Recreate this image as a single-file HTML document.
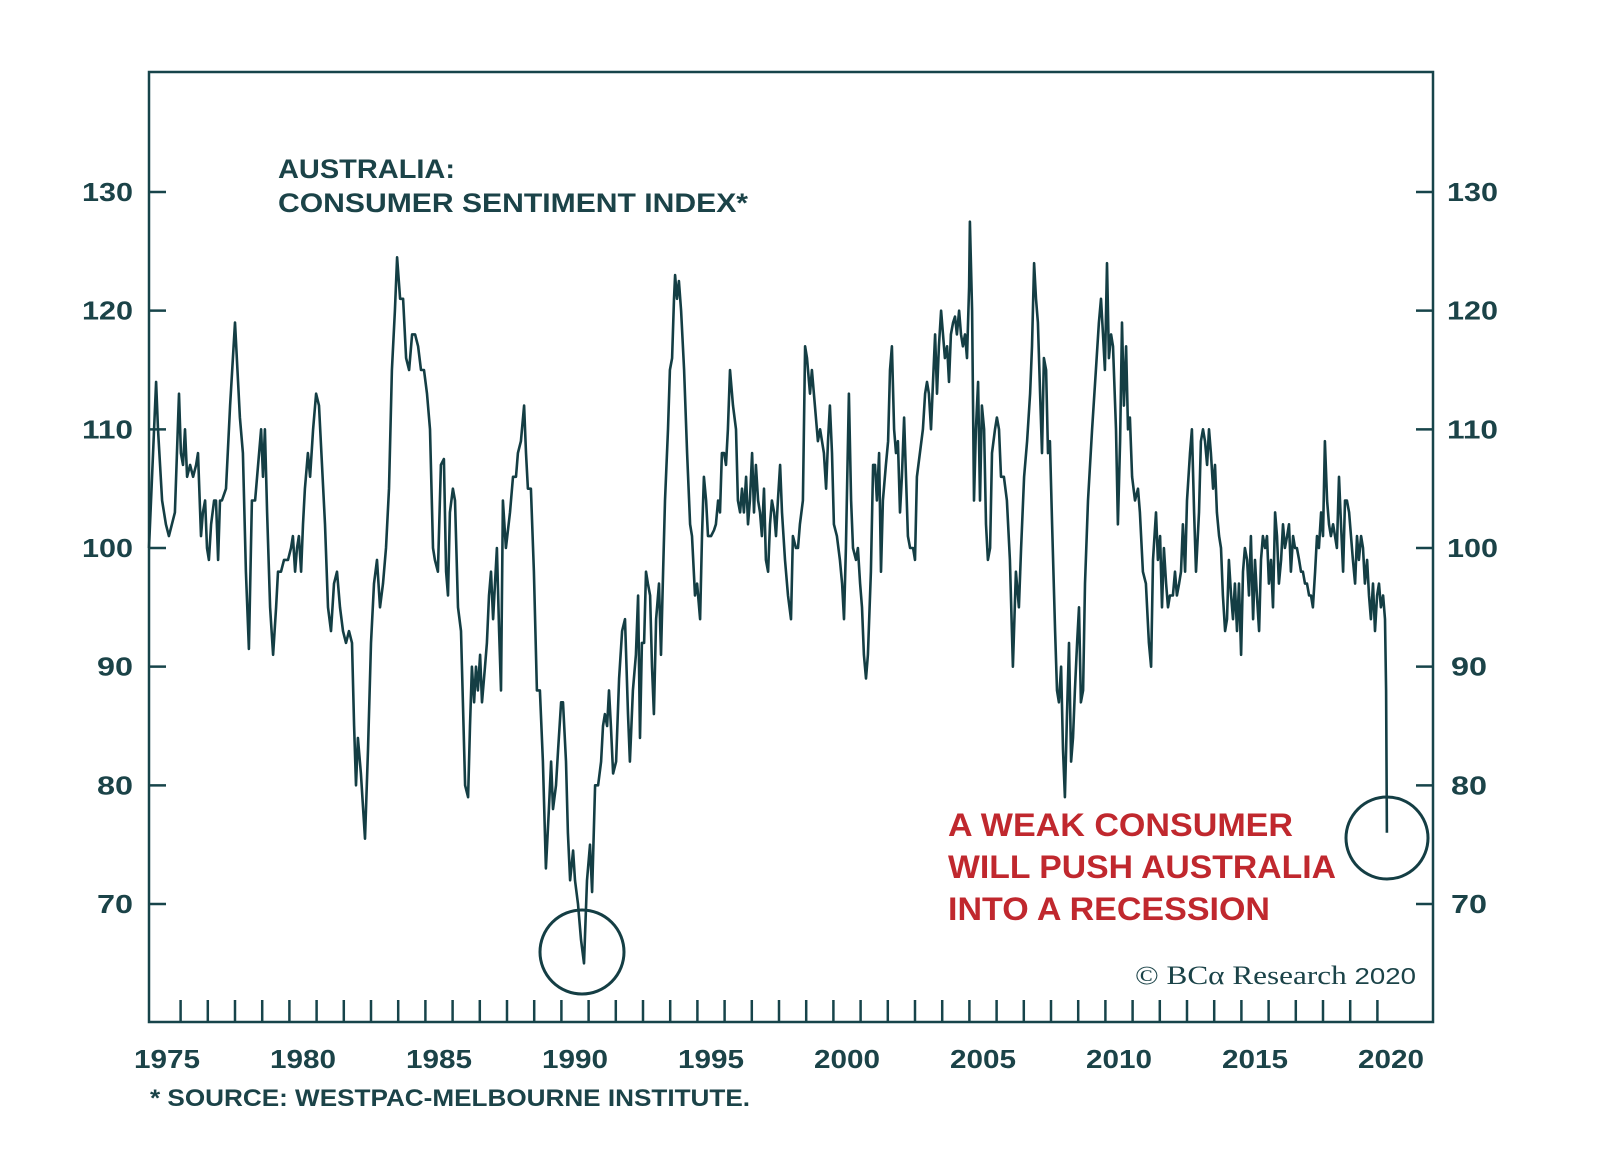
<!DOCTYPE html>
<html><head><meta charset="utf-8"><style>
html,body{margin:0;padding:0;background:#fff}
svg{display:block}
text{font-family:"Liberation Sans",sans-serif}
</style></head><body>
<svg id="chart" width="1600" height="1175" viewBox="0 0 1600 1175" xmlns="http://www.w3.org/2000/svg">
<rect x="0" y="0" width="1600" height="1175" fill="#fff"/>
<rect x="149" y="72" width="1284" height="950" fill="none" stroke="#17444a" stroke-width="2.5"/>
<g id="yticks"></g><g id="xticks"></g>
<path id="series" fill="none" stroke="#143e44" stroke-width="2.6" stroke-linejoin="round"/>
<text x="278" y="178" font-size="27" font-weight="bold" fill="#1b4348" textLength="177" lengthAdjust="spacingAndGlyphs">AUSTRALIA:</text>
<text x="278" y="212" font-size="27" font-weight="bold" fill="#1b4348" textLength="470" lengthAdjust="spacingAndGlyphs">CONSUMER SENTIMENT INDEX*</text>
<text x="948" y="836" font-size="32" font-weight="bold" fill="#c0282e" textLength="345" lengthAdjust="spacingAndGlyphs">A WEAK CONSUMER</text>
<text x="948" y="878" font-size="32" font-weight="bold" fill="#c0282e" textLength="388" lengthAdjust="spacingAndGlyphs">WILL PUSH AUSTRALIA</text>
<text x="948" y="920" font-size="32" font-weight="bold" fill="#c0282e" textLength="322" lengthAdjust="spacingAndGlyphs">INTO A RECESSION</text>
<circle cx="582" cy="952" r="42" fill="none" stroke="#143e44" stroke-width="3"/>
<circle cx="1387" cy="838" r="41" fill="none" stroke="#143e44" stroke-width="3"/>
<text x="1135" y="984" font-size="26" fill="#1b4348" style="font-family:'Liberation Serif',serif" textLength="281" lengthAdjust="spacingAndGlyphs">© BCα Research <tspan font-size="23" style="font-family:'Liberation Sans',sans-serif">2020</tspan></text>
<text x="150" y="1106" font-size="24" font-weight="bold" fill="#1b4348" textLength="600" lengthAdjust="spacingAndGlyphs">* SOURCE: WESTPAC-MELBOURNE INSTITUTE.</text>
</svg>
<script>
const yTickValues=[70,80,90,100,110,120,130];
const xTickLabels=[1975,1980,1985,1990,1995,2000,2005,2010,2015,2020];
const years=[1974.34,1974.60,1974.67,1974.82,1974.96,1975.07,1975.18,1975.29,1975.44,1975.51,1975.59,1975.66,1975.74,1975.85,1975.96,1976.07,1976.14,1976.25,1976.32,1976.40,1976.47,1976.54,1976.62,1976.73,1976.80,1976.88,1976.95,1977.02,1977.17,1977.32,1977.50,1977.68,1977.79,1977.90,1978.01,1978.12,1978.24,1978.35,1978.46,1978.53,1978.60,1978.68,1978.79,1978.90,1979.01,1979.08,1979.19,1979.30,1979.45,1979.56,1979.63,1979.71,1979.78,1979.85,1979.93,1980.00,1980.07,1980.18,1980.26,1980.37,1980.48,1980.59,1980.70,1980.81,1980.92,1981.03,1981.14,1981.25,1981.36,1981.47,1981.58,1981.69,1981.80,1981.88,1981.95,1982.02,1982.13,1982.28,1982.39,1982.50,1982.61,1982.72,1982.83,1982.94,1983.05,1983.16,1983.27,1983.38,1983.46,1983.57,1983.68,1983.79,1983.90,1984.01,1984.12,1984.23,1984.34,1984.45,1984.56,1984.67,1984.78,1984.85,1984.96,1985.07,1985.18,1985.26,1985.33,1985.40,1985.51,1985.59,1985.70,1985.81,1985.88,1985.96,1986.07,1986.14,1986.21,1986.29,1986.36,1986.43,1986.51,1986.58,1986.69,1986.76,1986.84,1986.91,1986.99,1987.06,1987.13,1987.21,1987.28,1987.35,1987.46,1987.61,1987.72,1987.83,1987.90,1988.01,1988.13,1988.20,1988.27,1988.38,1988.49,1988.60,1988.71,1988.82,1988.93,1989.04,1989.12,1989.19,1989.30,1989.38,1989.49,1989.56,1989.67,1989.74,1989.82,1989.93,1990.00,1990.11,1990.22,1990.33,1990.44,1990.55,1990.63,1990.74,1990.85,1990.96,1991.03,1991.10,1991.18,1991.25,1991.32,1991.40,1991.51,1991.62,1991.73,1991.84,1991.95,1992.02,1992.13,1992.24,1992.32,1992.39,1992.46,1992.54,1992.61,1992.68,1992.76,1992.83,1992.90,1992.98,1993.09,1993.16,1993.24,1993.31,1993.42,1993.49,1993.57,1993.64,1993.68,1993.75,1993.82,1993.90,1994.01,1994.12,1994.23,1994.30,1994.41,1994.49,1994.60,1994.67,1994.74,1994.82,1994.89,1995.00,1995.11,1995.18,1995.26,1995.33,1995.40,1995.48,1995.55,1995.62,1995.70,1995.81,1995.92,1995.99,1996.07,1996.14,1996.21,1996.29,1996.36,1996.43,1996.51,1996.58,1996.65,1996.73,1996.80,1996.87,1996.95,1997.02,1997.10,1997.17,1997.24,1997.32,1997.39,1997.46,1997.54,1997.61,1997.72,1997.83,1997.94,1998.01,1998.12,1998.20,1998.27,1998.38,1998.46,1998.53,1998.64,1998.71,1998.82,1998.93,1999.01,1999.08,1999.15,1999.23,1999.30,1999.37,1999.45,1999.52,1999.63,1999.74,1999.82,1999.89,1999.96,2000.07,2000.15,2000.22,2000.33,2000.40,2000.48,2000.55,2000.62,2000.70,2000.77,2000.88,2000.96,2001.03,2001.10,2001.18,2001.25,2001.32,2001.43,2001.51,2001.58,2001.65,2001.73,2001.80,2001.87,2001.95,2002.02,2002.10,2002.17,2002.24,2002.32,2002.43,2002.50,2002.57,2002.68,2002.79,2002.87,2002.94,2003.01,2003.09,2003.16,2003.24,2003.31,2003.38,2003.46,2003.53,2003.60,2003.68,2003.75,2003.82,2003.90,2003.97,2004.04,2004.12,2004.19,2004.26,2004.34,2004.41,2004.49,2004.52,2004.60,2004.67,2004.74,2004.82,2004.89,2004.96,2005.04,2005.11,2005.18,2005.26,2005.33,2005.44,2005.51,2005.59,2005.66,2005.77,2005.88,2005.99,2006.10,2006.21,2006.32,2006.40,2006.51,2006.62,2006.73,2006.80,2006.88,2006.95,2007.02,2007.10,2007.17,2007.24,2007.32,2007.39,2007.46,2007.54,2007.65,2007.72,2007.79,2007.87,2007.94,2008.01,2008.09,2008.16,2008.24,2008.31,2008.38,2008.46,2008.53,2008.60,2008.68,2008.75,2008.86,2009.01,2009.15,2009.26,2009.34,2009.41,2009.48,2009.56,2009.63,2009.71,2009.78,2009.89,2009.96,2010.04,2010.11,2010.18,2010.26,2010.33,2010.40,2010.48,2010.59,2010.70,2010.77,2010.88,2010.99,2011.10,2011.18,2011.25,2011.36,2011.43,2011.51,2011.58,2011.65,2011.73,2011.80,2011.87,2011.98,2012.06,2012.13,2012.21,2012.28,2012.35,2012.43,2012.50,2012.61,2012.68,2012.76,2012.83,2012.94,2013.01,2013.09,2013.16,2013.24,2013.31,2013.38,2013.46,2013.53,2013.60,2013.68,2013.75,2013.82,2013.90,2013.97,2014.04,2014.12,2014.19,2014.26,2014.34,2014.41,2014.49,2014.56,2014.63,2014.71,2014.78,2014.85,2014.93,2015.00,2015.07,2015.15,2015.22,2015.29,2015.37,2015.44,2015.51,2015.59,2015.66,2015.74,2015.81,2015.88,2015.96,2016.03,2016.10,2016.18,2016.25,2016.32,2016.40,2016.47,2016.54,2016.62,2016.69,2016.76,2016.84,2016.91,2016.99,2017.06,2017.13,2017.21,2017.28,2017.35,2017.43,2017.50,2017.57,2017.65,2017.72,2017.79,2017.87,2017.94,2018.01,2018.09,2018.16,2018.24,2018.31,2018.38,2018.46,2018.53,2018.60,2018.68,2018.75,2018.82,2018.90,2018.97,2019.04,2019.12,2019.19,2019.26,2019.34,2019.41,2019.49,2019.56,2019.63,2019.71,2019.78,2019.82,2019.85];
const values=[100,114,110,104,102,101,102,103,113,108,107,110,106,107,106,107,108,101,103,104,100,99,102,104,104,99,104,104,105,112,119,111,108,98,91.5,104,104,107,110,106,110,103,95,91,95,98,98,99,99,100,101,98,100,101,98,102,105,108,106,110,113,112,107,102,95,93,97,98,95,93,92,93,92,85,80,84,81,75.5,83,92,97,99,95,97,100,105,115,120,124.5,121,121,116,115,118,118,117,115,115,113,110,100,99,98,107,107.5,98,96,103,105,104,95,93,87,80,79,85,90,87,90,88,91,87,90,92,96,98,94,97,100,93,88,104,100,103,106,106,108,109,112,108,105,105,98,88,88,82,73,78,82,78,80,83,87,87,82,76,72,74.5,72,70,67,65,72,75,71,80,80,82,85,86,85,88,85,81,82,89,93,94,86,82,88,91,96,84,92,92,98,97,96,90,86,94,97,91,98,104,110,115,116,121,123,121,122.5,120,115,108,102,101,96,97,94,101,106,104,101,101,101.5,102,104,103,108,108,107,110,115,112,110,104,103,105,103,106,102,104,108,103,107,104,103,101,105,99,98,102,104,103,101,104,107,103,99,96,94,101,100,100,102,104,117,116,113,115,112,109,110,109,108,105,109,112,108,102,101,99,97,94,100,113,104,100,99,100,97,95,91,89,91,98,107,107,104,108,98,104,107,109,115,117,110,108,109,103,106,111,106,101,100,100,99,106,108,110,113,114,113,110,114,118,113,117,120,118,116,117,114,118,119,119.5,118,120,118,117,118,116,122,127.5,120,104,110,114,104,112,110,102,99,100,108,110,111,110,106,106,104,99,90,98,95,100,106,109,113,117,124,121,119,113,108,116,115,108,109,102,93,88,87,90,83,79,86,92,82,84,88,92,95,87,88,97,104,110,115,119,121,118,115,124,116,118,117,110,102,109,119,112,117,110,111,106,104,105,103,98,97,92,90,99,103,99,101,95,100,97,95,96,96,98,96,97,98,102,98,104,108,110,103,98,103,109,110,109,107,110,108,105,107,103,101,100,96,93,94,99,96,94,97,93,97,91,98,100,99,96,101,94,99,96,93,99,101,100,101,97,99,95,103,101,97,99,102,100,101,102,98,101,100,100,99,98,98,97,97,96,96,95,98,101,100,103,101,109,104,102,101,102,101,100,106,102,98,104,104,103,101,99,97,101,99,101,100,97,99,96,94,97,93,96,97,95,96,94,88,76];
const X0=167, PXY=27.2, Y100=548, PXV=11.867;
function xs(yr){return X0+(yr-1975)*PXY;}
function ys(v){return Y100-(v-100)*PXV;}
const NS="http://www.w3.org/2000/svg";
const yt=document.getElementById('yticks');
yTickValues.forEach(v=>{
  const y=ys(v);
  const w=String(v).length===3?51:36;
  const l1=document.createElementNS(NS,'line');
  l1.setAttribute('x1',149);l1.setAttribute('x2',166);l1.setAttribute('y1',y);l1.setAttribute('y2',y);
  l1.setAttribute('stroke','#17444a');l1.setAttribute('stroke-width','2.5');
  
  
  yt.appendChild(l1);
  const l2=document.createElementNS(NS,'line');
  l2.setAttribute('x1',1416);l2.setAttribute('x2',1433);l2.setAttribute('y1',y);l2.setAttribute('y2',y);
  l2.setAttribute('stroke','#17444a');l2.setAttribute('stroke-width','2.5');
  
  
  yt.appendChild(l2);
  const t1=document.createElementNS(NS,'text');
  t1.setAttribute('x',133-w);t1.setAttribute('y',y+9);
  t1.setAttribute('font-size','26');t1.setAttribute('font-weight','bold');t1.setAttribute('fill','#1b4348');
  t1.setAttribute('textLength',w);t1.setAttribute('lengthAdjust','spacingAndGlyphs');
  t1.textContent=v;
  
  
  yt.appendChild(t1);
  const t2=document.createElementNS(NS,'text');
  t2.setAttribute('x',1447+(w===36?4:0));t2.setAttribute('y',y+9);
  t2.setAttribute('font-size','26');t2.setAttribute('font-weight','bold');t2.setAttribute('fill','#1b4348');
  t2.setAttribute('textLength',w);t2.setAttribute('lengthAdjust','spacingAndGlyphs');
  t2.textContent=v;
  
  
  yt.appendChild(t2);
});
const xt=document.getElementById('xticks');
for(let yr=1975;yr<2020;yr++){
  const x=xs(yr+0.5);
  const l=document.createElementNS(NS,'line');
  l.setAttribute('x1',x);l.setAttribute('x2',x);l.setAttribute('y1',1000);l.setAttribute('y2',1022);
  l.setAttribute('stroke','#17444a');l.setAttribute('stroke-width','2.5');
  
  
  xt.appendChild(l);
}
xTickLabels.forEach(yr=>{
  const t=document.createElementNS(NS,'text');
  t.setAttribute('x',xs(yr)-33);t.setAttribute('y',1068);
  t.setAttribute('font-size','26');t.setAttribute('font-weight','bold');t.setAttribute('fill','#1b4348');
  t.setAttribute('textLength',66);t.setAttribute('lengthAdjust','spacingAndGlyphs');
  t.textContent=yr;
  
  
  xt.appendChild(t);
});
let d='';
for(let i=0;i<values.length;i++){d+=(i?'L':'M')+xs(years[i]).toFixed(1)+' '+ys(values[i]).toFixed(1);}
document.getElementById('series').setAttribute('d',d);
</script>
</body></html>
